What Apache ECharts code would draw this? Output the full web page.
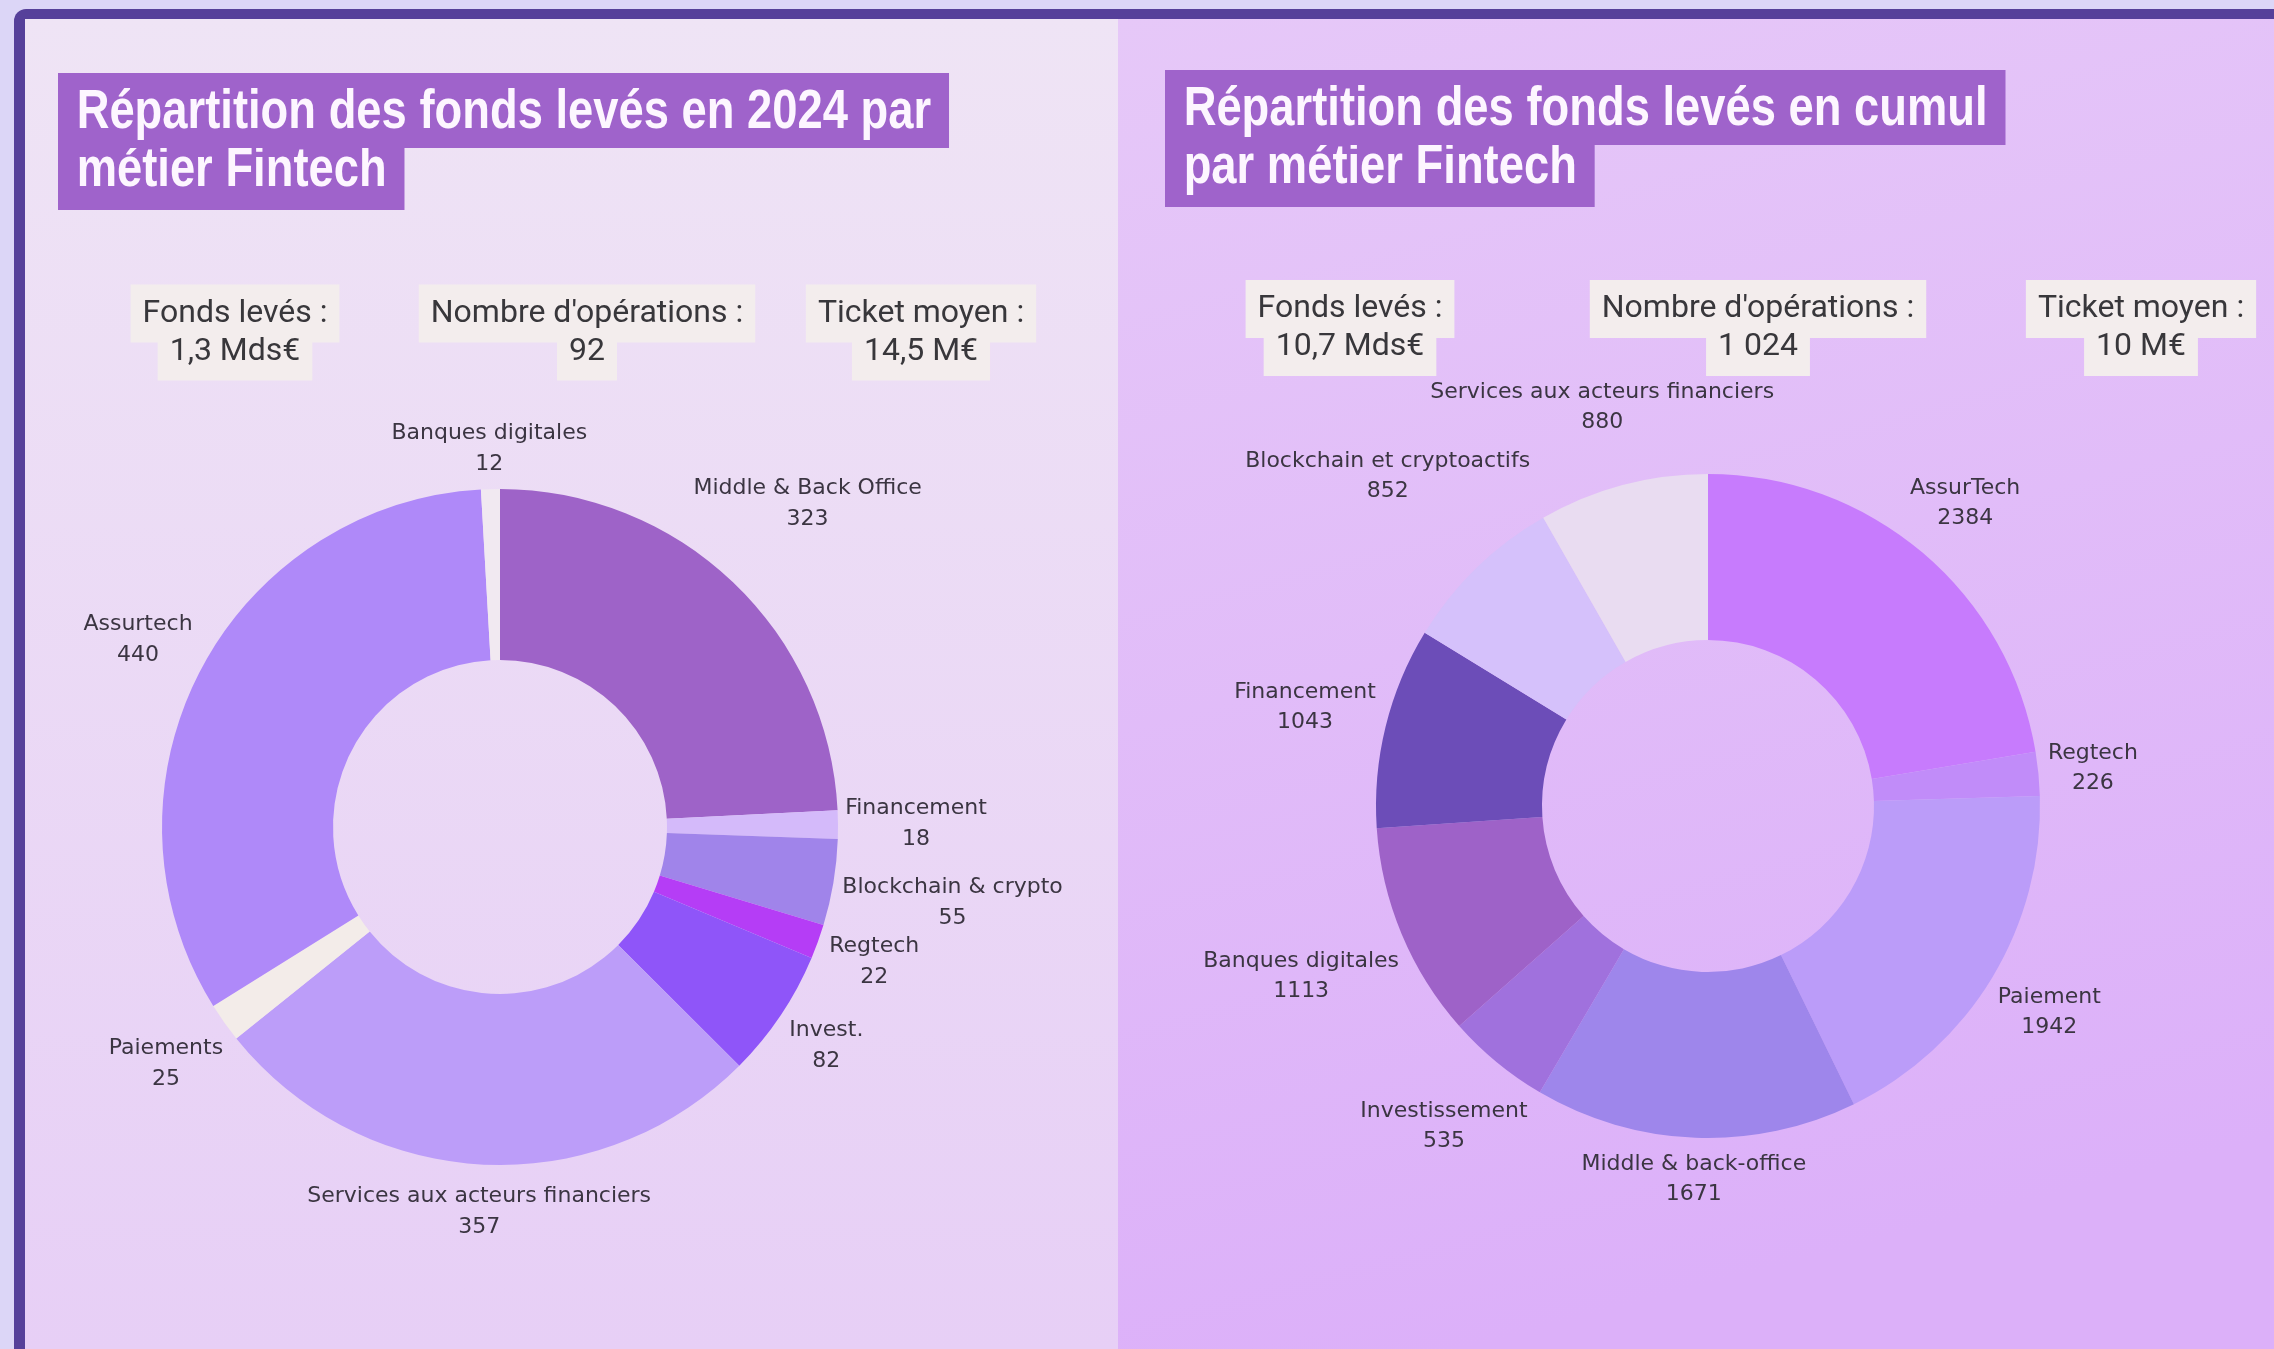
<!DOCTYPE html>
<html lang="fr">
<head>
<meta charset="utf-8">
<title>Répartition des fonds levés par métier Fintech</title>
<script src="https://cdn.jsdelivr.net/npm/echarts/dist/echarts.min.js"></script>
<style>
  html, body { margin: 0; padding: 0; background: #dcd6f7; }
  #chart { width: 2274px; height: 1349px; }
</style>
</head>
<body>
<div id="chart"></div>
<script>
  // données 2024
  var names2024 = ['Middle & Back Office', 'Financement', 'Blockchain & crypto', 'Regtech', 'Invest.',
    'Services aux acteurs financiers', 'Paiements', 'Assurtech', 'Banques digitales'];
  var values2024 = [323, 18, 55, 22, 82, 357, 25, 440, 12];

  // données cumulées
  var namesCumul = ['AssurTech', 'Regtech', 'Paiement', 'Middle & back-office', 'Investissement',
    'Banques digitales', 'Financement', 'Blockchain et cryptoactifs', 'Services aux acteurs financiers'];
  var valuesCumul = [2384, 226, 1942, 1671, 535, 1113, 1043, 852, 880];

  // chiffres clés
  var statLabels = ['Fonds levés :', "Nombre d'opérations :", 'Ticket moyen :'];
  var stats2024 = ['1,3 Mds€', '92', '14,5 M€'];
  var statsCumul = ['10,7 Mds€', '1 024', '10 M€'];

  // titres
  var title2024 = ['Répartition des fonds levés en 2024 par', 'métier Fintech'];
  var titleCumul = ['Répartition des fonds levés en cumul', 'par métier Fintech'];

  // couleurs (une par part, dans l'ordre des données)
  var palette2024 = ['#9e63c8', '#d4bafa', '#a084ea', '#b53df6', '#8f55f9', '#bc9df9', '#f3ece9', '#af89f9', '#f1e9f1'];
  var paletteCumul = ['#c77bfd', '#c18cf9', '#bb9cf9', '#9e86eb', '#a071dd', '#9e62c8', '#6c4db8', '#d5c1fb', '#e9dcf1'];

  var chart = echarts.init(document.getElementById('chart'));

  // place chaque étiquette juste à l'extérieur de sa part
  function outsideLabels(values, center, outerR, gap) {
    var total = 0, starts = [];
    values.forEach(function (v) { starts.push(total); total += v; });
    return function (p) {
      var i = p.dataIndex;
      var mid = (starts[i] + values[i] / 2) / total * Math.PI * 2;
      var ux = Math.sin(mid), uy = -Math.cos(mid);
      var w = p.labelRect.width, h = p.labelRect.height;
      var d = outerR + gap + Math.abs(ux) * w / 2 + Math.abs(uy) * h / 2;
      return { x: center[0] + ux * d, y: center[1] + uy * d, align: 'center', verticalAlign: 'middle' };
    };
  }

  function toData(names, values, palette) {
    return names.map(function (n, i) {
      return { name: n, value: values[i], itemStyle: { color: palette[i] } };
    });
  }

  // deux lignes de titre, chacune surlignée
  function titleLines(lines, x, y) {
    var common = { fill: '#fdf6ff', fontSize: 56, fontWeight: 'bold', fontFamily: 'Liberation Sans, Arial, sans-serif',
      lineHeight: 58, backgroundColor: '#9f63cb', align: 'left', verticalAlign: 'top' };
    return [
      { type: 'text', x: x, y: y + 62, scaleX: 0.81, z: 2,
        style: Object.assign({ text: lines[1], padding: [6.5, 22, 10.5, 23] }, common) },
      { type: 'text', x: x, y: y, scaleX: 0.81, z: 3,
        style: Object.assign({ text: lines[0], padding: [10.5, 22, 6.5, 23] }, common) }
    ];
  }

  // encadrés des chiffres clés : fonds d'abord, textes ensuite
  function statBoxes(values, xs, y) {
    var boxes = [], texts = [];
    var common = { fontSize: 32, fontFamily: 'Roboto, sans-serif', lineHeight: 38,
      padding: [10, 12], align: 'center', verticalAlign: 'middle' };
    xs.forEach(function (cx, i) {
      [statLabels[i], values[i]].forEach(function (t, k) {
        boxes.push({ type: 'text', x: cx, y: y + k * 38, z: 2,
          style: Object.assign({ text: t, fill: 'rgba(0,0,0,0)', backgroundColor: '#f3eded' }, common) });
        texts.push({ type: 'text', x: cx, y: y + k * 38, z: 3,
          style: Object.assign({ text: t, fill: '#38373b' }, common) });
      });
    });
    return boxes.concat(texts);
  }

  var center2024 = [500, 827], centerCumul = [1708, 806];

  var graphics = [
    // cadre
    { type: 'rect', z: 0, shape: { x: 14, y: 9, width: 2300, height: 1400, r: 12 }, style: { fill: '#56409a' } },
    // panneau gauche
    { type: 'rect', z: 1, shape: { x: 25, y: 19, width: 1093, height: 1330 },
      style: { fill: new echarts.graphic.LinearGradient(0, 0, 0, 1, [
        { offset: 0, color: '#efe4f5' }, { offset: 1, color: '#e7cff6' }]) } },
    // panneau droit
    { type: 'rect', z: 1, shape: { x: 1118, y: 19, width: 1160, height: 1330 },
      style: { fill: new echarts.graphic.LinearGradient(0, 0, 0.3, 1, [
        { offset: 0, color: '#e6c8f8' }, { offset: 1, color: '#dcb0f9' }]) } }
  ];
  graphics = graphics
    .concat(titleLines(title2024, 58, 73))
    .concat(titleLines(titleCumul, 1165, 70))
    .concat(statBoxes(stats2024, [235, 587, 921], 313.5))
    .concat(statBoxes(statsCumul, [1350, 1758, 2141], 309));

  var labelBase = {
    show: true,
    formatter: '{b}\n{c}',
    color: '#3b3542',
    fontFamily: 'DejaVu Sans',
    fontSize: 22,
    align: 'center'
  };

  var option = {
    animation: false,
    graphic: graphics,
    series: [
      {
        type: 'pie',
        center: center2024,
        radius: [167, 338],
        startAngle: 90,
        clockwise: true,
        avoidLabelOverlap: false,
        data: toData(names2024, values2024, palette2024),
        label: Object.assign({ lineHeight: 31 }, labelBase),
        labelLine: { show: false },
        labelLayout: outsideLabels(values2024, center2024, 338, 7),
        emphasis: { disabled: true }
      },
      {
        type: 'pie',
        center: centerCumul,
        radius: [166, 332],
        startAngle: 90,
        clockwise: true,
        avoidLabelOverlap: false,
        data: toData(namesCumul, valuesCumul, paletteCumul),
        label: Object.assign({ lineHeight: 30 }, labelBase),
        labelLine: { show: false },
        labelLayout: outsideLabels(valuesCumul, centerCumul, 332, 7),
        emphasis: { disabled: true }
      }
    ]
  };

  chart.setOption(option);
</script>
</body>
</html>
